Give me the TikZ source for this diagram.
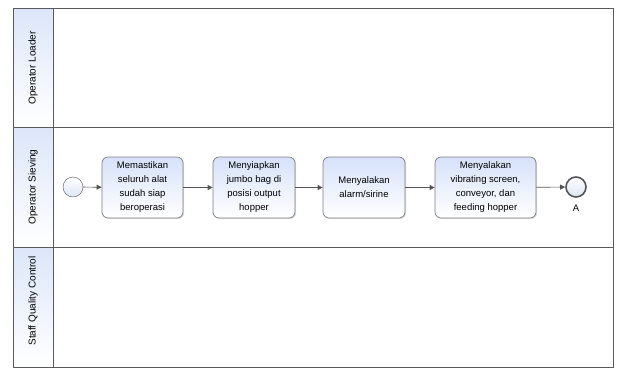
\documentclass[tikz,border=0pt]{standalone}
\usepackage{fontspec}
\setmainfont{Liberation Sans}
\usetikzlibrary{arrows.meta,shadows,positioning}
\definecolor{laneline}{HTML}{5A5A5A}
\definecolor{taskline}{HTML}{7C7C7C}
\definecolor{taskblue}{HTML}{D6E2FA}
\definecolor{headblue}{HTML}{DCE6F9}
\definecolor{flowgray}{HTML}{555555}
\tikzset{
  lanebox/.style={draw=laneline, line width=0.8pt},
  headbox/.style={draw=laneline, line width=0.8pt, top color=headblue, bottom color=white},
  headtext/.style={rotate=90, font=\fontsize{10}{12}\selectfont, text=black},
  task/.style={draw=taskline, line width=0.7pt, rounded corners=6pt,
    top color=taskblue, bottom color=white, align=center,
    font=\fontsize{9.5}{14}\selectfont, inner sep=0pt,
    drop shadow={shadow xshift=1pt, shadow yshift=-1pt, opacity=0.25}},
  event/.style={circle, draw=flowgray, minimum size=20pt, inner sep=0pt,
    top color=white, bottom color=headblue},
  endevent/.style={event, line width=1.6pt},
  flow/.style={draw=flowgray, line width=0.7pt, -{Triangle[length=5pt,width=5pt]}},
}
\begin{document}
\begin{tikzpicture}[x=1pt,y=-1pt]
\useasboundingbox (0,0) rectangle (618,368);
% lanes
\draw[lanebox] (13,8) rectangle (613,367);
\draw[lanebox] (13,127) -- (613,127);
\draw[lanebox] (13,247) -- (613,247);
% lane headers
\path[headbox] (13,8) rectangle (53,127);
\path[headbox] (13,127) rectangle (53,247);
\path[headbox] (13,247) rectangle (53,367);
\node[headtext] (h1) at (33,68) {Operator Loader};
\node[headtext] (h2) at (33,187) {Operator Sieving};
\node[headtext] (h3) at (33,301) {Staff Quality Control};
% flow in Operator Sieving lane
\node[event] (start) at (73,187) {};
\node[task, minimum width=81pt, minimum height=61pt] (t1) at (142.5,187.5)
  {Memastikan\\seluruh alat\\sudah siap\\beroperasi};
\node[task, minimum width=82pt, minimum height=61pt] (t2) at (254,187.5)
  {Menyiapkan\\jumbo bag di\\posisi output\\hopper};
\node[task, minimum width=82pt, minimum height=61pt] (t3) at (364,187.5)
  {Menyalakan\\alarm/sirine};
\node[task, minimum width=101pt, minimum height=61pt] (t4) at (485.5,187.5)
  {Menyalakan\\vibrating screen,\\conveyor, dan\\feeding hopper};
\node[endevent] (end) at (576,187) {};
\node[font=\fontsize{9.5}{11}\selectfont, below=4pt of end] (endlbl) {A};
\draw[flow] (start) -- (t1);
\draw[flow] (t1) -- (t2);
\draw[flow] (t2) -- (t3);
\draw[flow] (t3) -- (t4);
\draw[flow] (t4) -- (end);
\end{tikzpicture}
\end{document}
